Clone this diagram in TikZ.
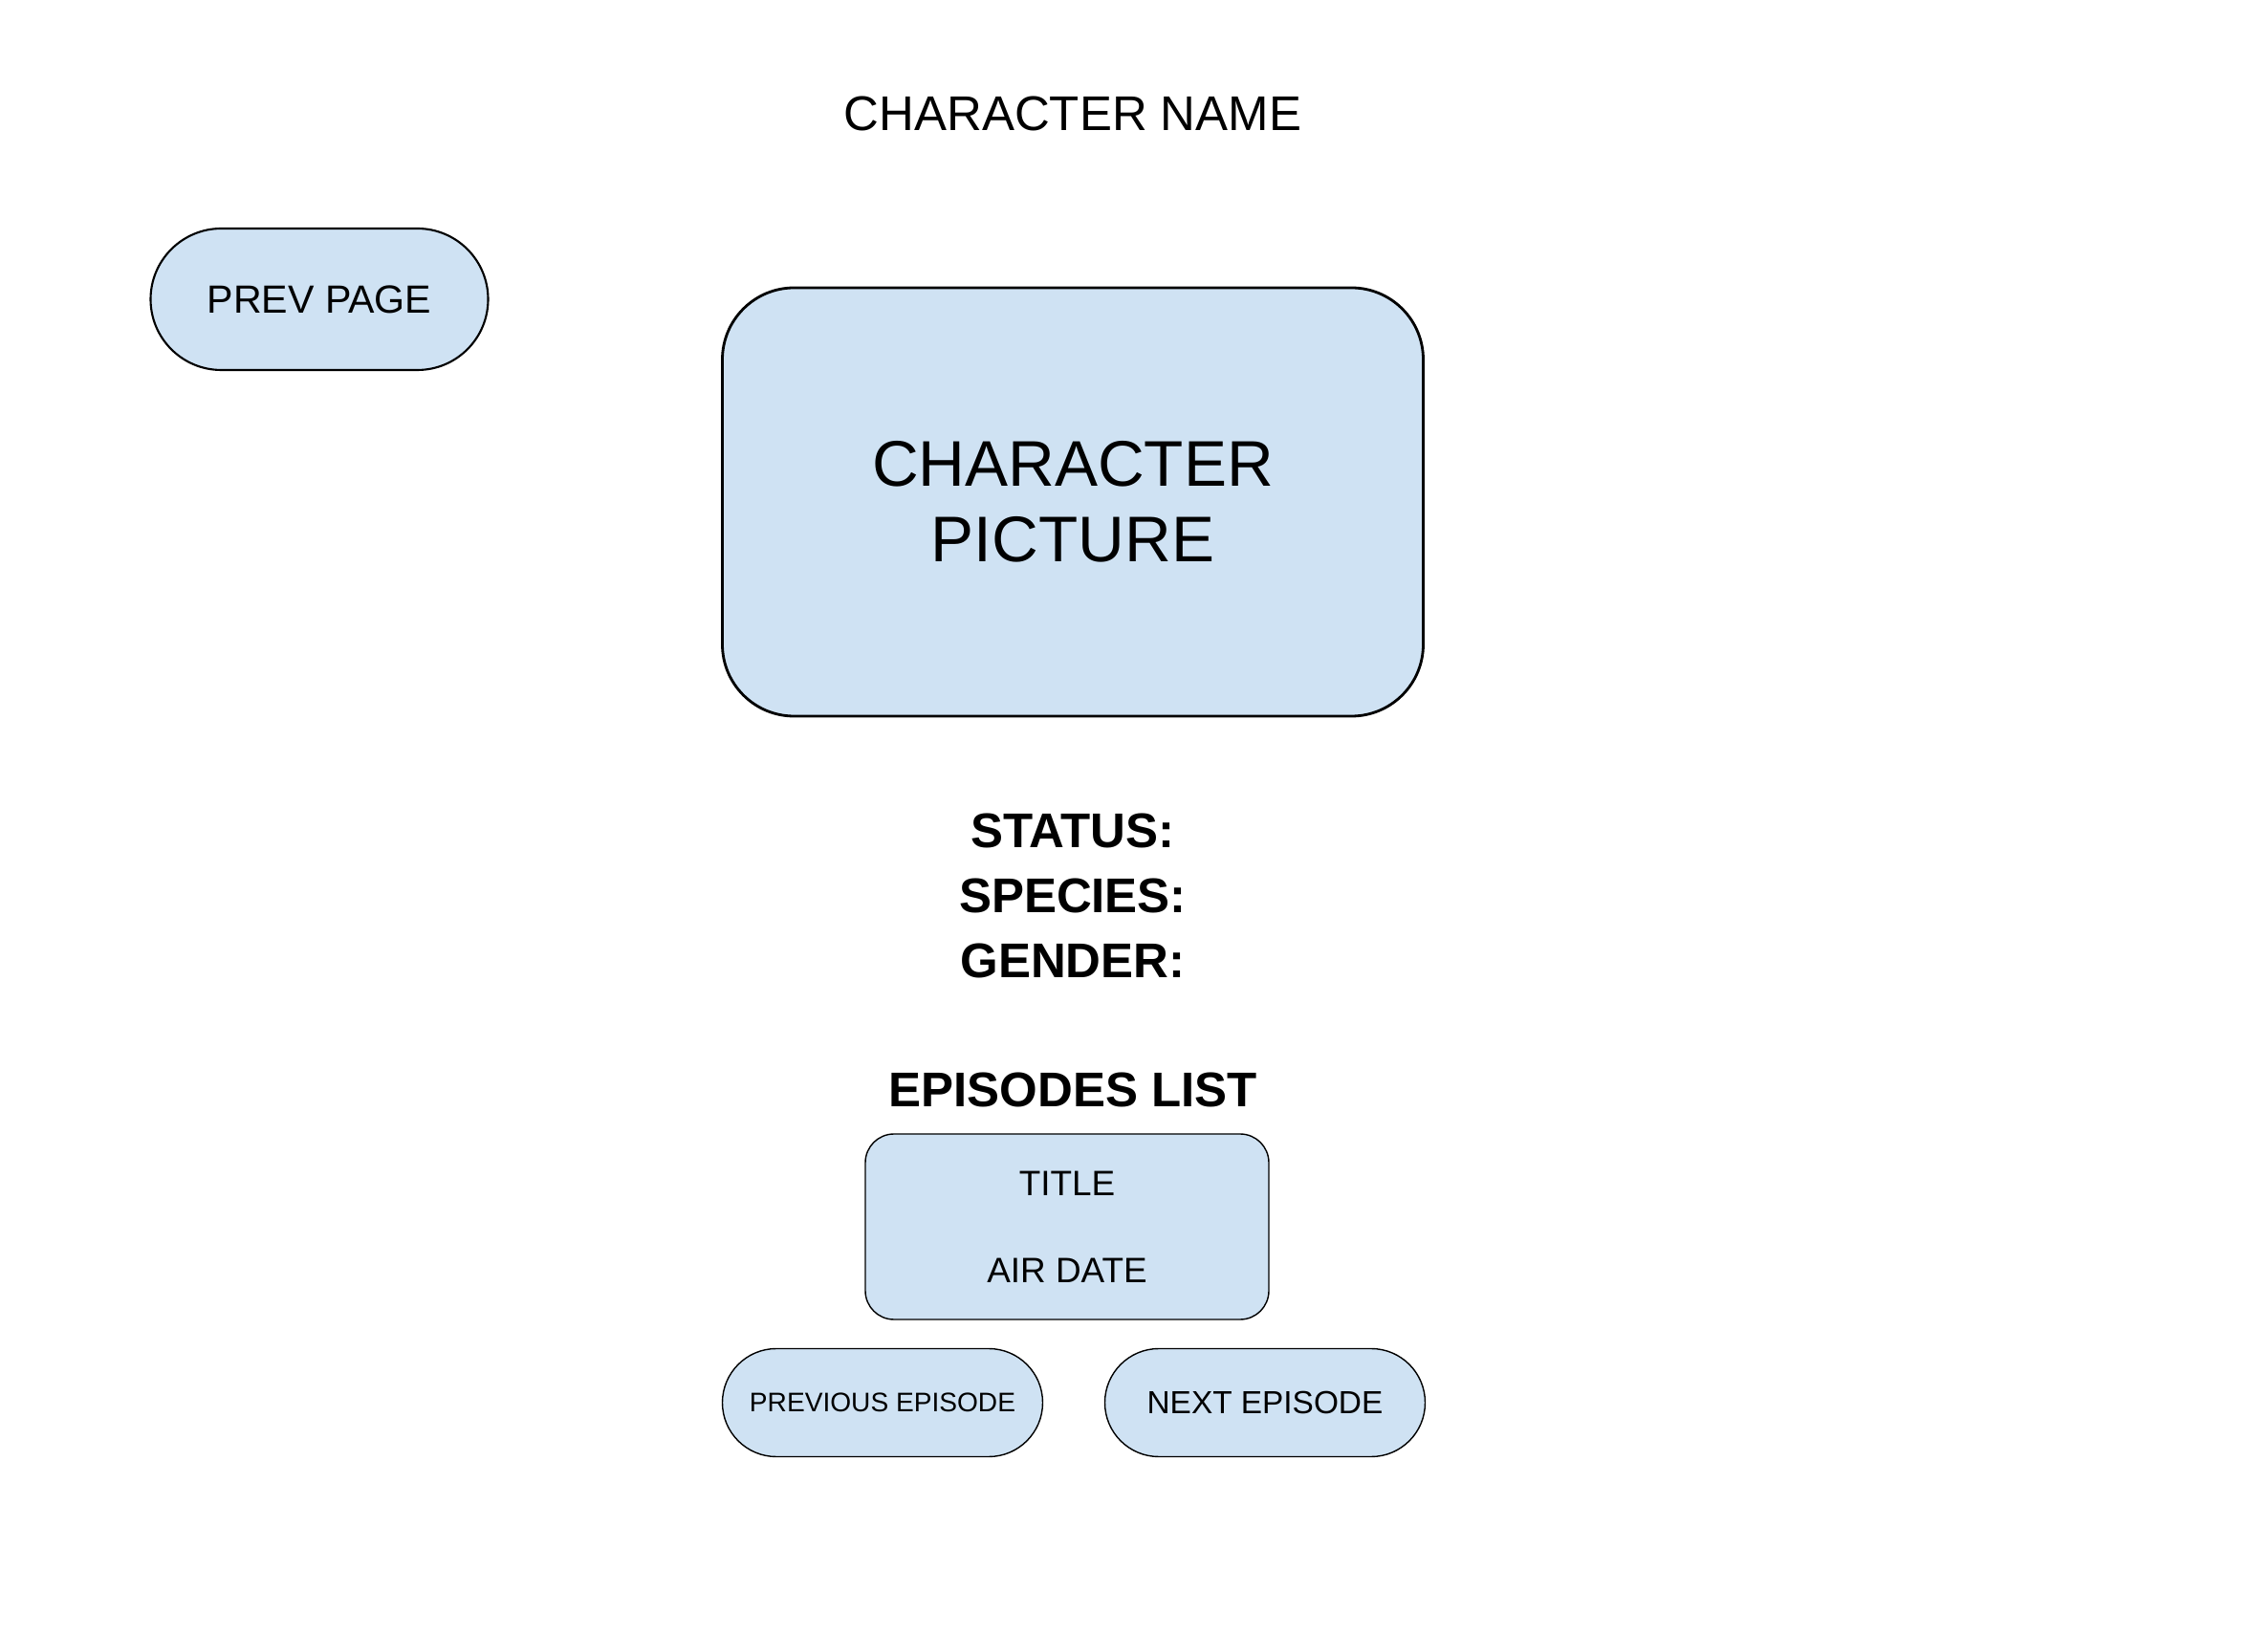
\documentclass[tikz,border=0pt]{standalone}
\usepackage{fontspec}
\setmainfont{Liberation Sans}
\usetikzlibrary{positioning}

\definecolor{boxblue}{HTML}{CFE2F3}

\begin{document}
\begin{tikzpicture}[
    card/.style={draw, fill=boxblue, align=center, inner sep=0pt},
    pill/.style={card, line width=0.4pt, minimum width=3.35cm, minimum height=1.13cm, rounded corners=0.565cm},
    info/.style={align=center}
]

\useasboundingbox (0,0) rectangle (23.72,-17.10);

\node[font={\fontsize{14.5}{17}\selectfont}] (name) at (11.22,-1.19) {CHARACTER NAME};

\node[card, line width=0.6pt, minimum width=3.53cm, minimum height=1.48cm, rounded corners=0.74cm,
    font={\fontsize{11.7}{14}\selectfont}] (prev) at (3.34,-3.13) {PREV PAGE};

\node[card, line width=0.8pt, minimum width=7.33cm, minimum height=4.48cm, rounded corners=0.75cm,
    font={\fontsize{19.2}{22.5}\selectfont}] (pic) at (11.22,-5.25) {CHARACTER\\PICTURE};

\node[info, font={\fontsize{14.5}{19.3}\selectfont\bfseries}] (stats) at (11.22,-9.37) {STATUS:\\SPECIES:\\GENDER:};

\node[info, font={\fontsize{14.5}{17}\selectfont\bfseries}] (eplist) at (11.22,-11.40) {EPISODES LIST};

\node[card, line width=0.4pt, minimum width=4.22cm, minimum height=1.94cm, rounded corners=0.3cm,
    font={\fontsize{10.5}{12.6}\selectfont}] (episode) at (11.16,-12.83) {TITLE\\[13.4pt]AIR DATE};

\node[pill, font={\fontsize{8}{10}\selectfont}] (prevep) at (9.23,-14.67) {PREVIOUS EPISODE};
\node[pill, font={\fontsize{9.5}{11}\selectfont}] (nextep) at (13.23,-14.67) {NEXT EPISODE};

\end{tikzpicture}
\end{document}
